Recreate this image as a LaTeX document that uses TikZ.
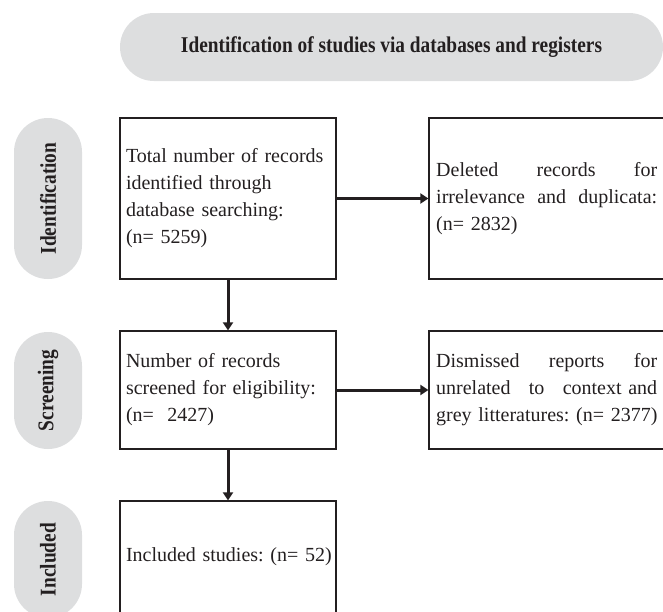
\documentclass[tikz,border=0pt]{standalone}
\usepackage{fontspec}
\setmainfont{Liberation Serif}
\newfontfamily\boxfont{Liberation Serif}[WordSpace=1.25]
\newfontfamily\headfont{Liberation Serif}[FakeStretch=0.86]
\usetikzlibrary{arrows.meta}
\definecolor{pill}{RGB}{221,222,223}
\definecolor{ink}{RGB}{35,31,32}
\begin{document}
\begin{tikzpicture}[x=1pt,y=-1pt,
  pillbox/.style={fill=pill, draw=none, rounded corners=34pt, inner sep=0pt, text=ink},
  sidelabel/.style={pillbox, minimum height=68pt, font=\headfont\bfseries\fontsize{22.5}{24}\selectfont},
  nohyph/.style={execute at begin node={\hyphenpenalty=10000\exhyphenpenalty=10000\hbadness=10000\hfuzz=20pt}},
  flowbox/.style={draw=ink, line width=1.3pt, rectangle, inner sep=0pt, text=ink, nohyph, font=\boxfont\fontsize{20}{27}\selectfont},
  boxtext/.style={inner sep=0pt, text=ink, nohyph, font=\boxfont\fontsize{20}{27}\selectfont, text width=221pt, align=left},
  flowarrow/.style={draw=ink, line width=3pt, -{Triangle[length=8pt,width=10pt]}}
]
\useasboundingbox (0,0) rectangle (663,611);
\clip (0,0) rectangle (663,611);

% header
\node[pillbox, minimum width=543pt, minimum height=68pt, font=\headfont\bfseries\fontsize{22.5}{27}\selectfont] (head) at (391.5,47) {Identification of studies via databases and~registers};

% side labels
\node[sidelabel, minimum width=161pt, rotate=90] (s1) at (48,198.5) {Identification};
\node[sidelabel, minimum width=117pt, rotate=90] (s2) at (48,390.5) {Screening};
\node[sidelabel, minimum width=117pt, rotate=90] (s3) at (48,559.5) {Included};

% boxes
\node[flowbox, minimum width=216pt, minimum height=161pt, text width=204pt, align=left] (b1) at (228,198.5) {Total~number~of~records\\identified~through\\database~searching:\\(n=~5259)};
\node[flowbox, minimum width=260pt, minimum height=161pt] (b2) at (559,198.5) {};
\node[boxtext, anchor=west] (t2) at (436,198.5) {Deleted\hfill records\hfill for\\irrelevance\hfill and\hfill duplicata:\\(n=~2832)};

\node[flowbox, minimum width=216pt, minimum height=118pt, text width=204pt, align=left] (b3) at (228,390) {Number~of~records\\screened~for~eligibility:\\(n=~~2427)};
\node[flowbox, minimum width=260pt, minimum height=118pt] (b4) at (559,390) {};
\node[boxtext, anchor=west] (t4) at (436,390) {Dismissed\hfill reports\hfill for\\unrelated\hfill to\hfill context~and\\grey~litteratures:~(n=~2377)};

\node[flowbox, minimum width=216pt, minimum height=112pt, text width=204pt, align=left] (b5) at (228,557) {Included~studies:~(n=~52)};

% arrows
\draw[flowarrow] (b1.east) -- (b2.west);
\draw[flowarrow] (b3.east) -- (b4.west);
\draw[flowarrow] (b1.south) -- (b3.north);
\draw[flowarrow] (b3.south) -- (b5.north);
\end{tikzpicture}
\end{document}
